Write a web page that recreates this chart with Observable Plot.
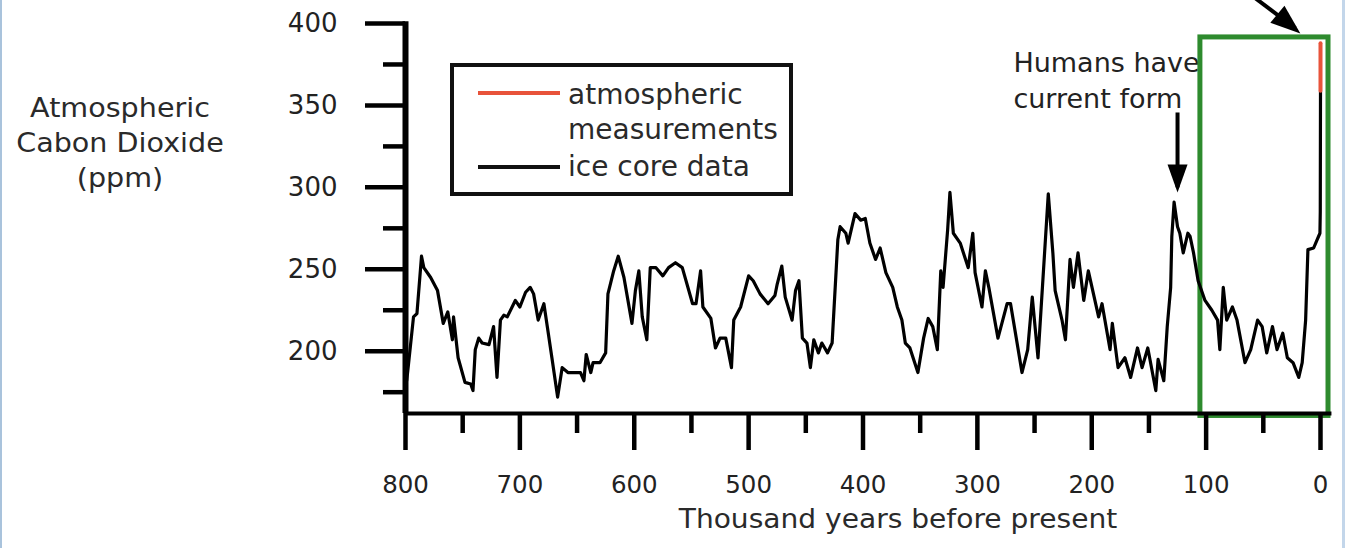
<!DOCTYPE html>
<html>
<head>
<meta charset="utf-8">
<script src="https://cdn.jsdelivr.net/npm/d3@7"></script>
<script src="https://cdn.jsdelivr.net/npm/@observablehq/plot@0.6"></script>
<style>
  html, body { margin: 0; padding: 0; background: #fff; }
  #wrap { position: relative; width: 1345px; height: 548px; overflow: hidden; background: #fff; font-family: "DejaVu Sans", sans-serif; }
  #chart { position: absolute; left: 0; top: 0; }
  .txt { position: absolute; white-space: nowrap; color: #2a2a2a; font-family: "DejaVu Sans", sans-serif; }
</style>
</head>
<body>
<div id="wrap">
  <div id="chart"></div>
  <div class="txt" id="ylab" style="left:0;top:91px;width:240px;text-align:center;font-size:26px;line-height:35px;transform:scaleX(1.1);transform-origin:120px 0;">Atmospheric<br>Cabon Dioxide<br>(ppm)</div>
  <div class="txt" id="xlab" style="left:598px;width:600px;top:506px;text-align:center;font-size:26px;line-height:26px;transform:scaleX(1.08);transform-origin:300px 0;">Thousand years before present</div>
  <div id="legend" style="position:absolute;left:450px;top:63px;width:343px;height:133px;box-sizing:border-box;border:4px solid #111;background:#fff;"></div>
  <div style="position:absolute;left:478px;top:91px;width:82px;height:4px;background:#e8533a;"></div>
  <div style="position:absolute;left:478px;top:165px;width:82px;height:4px;background:#111;"></div>
  <div class="txt" style="left:568px;top:81px;font-size:28px;line-height:28px;">atmospheric</div>
  <div class="txt" style="left:568px;top:116px;font-size:28px;line-height:28px;">measurements</div>
  <div class="txt" style="left:568px;top:153px;font-size:28px;line-height:28px;">ice core data</div>
  <div style="position:absolute;left:0;top:0;width:2px;height:548px;background:#a9c3dc;"></div>
  <div style="position:absolute;left:1342px;top:0;width:3px;height:548px;background:#c3d6ea;"></div>
</div>
<script>
// Ice core data: age in thousand years before present, CO2 in ppm
const iceAge = [799,798,793,790,786,784,778,772,767,763,759,758,754,748,743,741,739,736,733,727,723,720,717,714,711,704,700,695,691,688,684,679,676,672,667,663,658,647,644,642,638,636,630,625,623,618,614,609,602,599,596,593,589,586,581,575,570,564,558,549,546,542,540,533,529,525,520,515,513,507,500,496,490,483,477,475,471,468,462,459,456,453,449,446,443,439,436,431,427,422,420,415,413,407,402,398,394,389,385,380,374,370,366,363,359,352,347,343,339,335,332,330,326,324,321,315,308,304,302,296,293,290,282,274,271,261,256,252,247,238,234,232,226,223,219,216,212,207,203,194,191,184,182,177,171,166,160,156,151,144,142,137,134,131,130,128,125,123,120,116,114,111,107,101,95,90,88,85,82,77,73,66,61,55,51,47,42,38,33,29,24,19,16,13,11,6,3,0.5,0.2,0];
const iceCO2 = [182,188,221,223,258,251,245,237,217,224,207,221,196,181,180,176,201,208,205,204,215,184,219,222,221,231,227,236,239,235,219,229,215,196,172,190,187,187,182,198,187,193,193,199,235,249,258,245,217,237,249,221,207,251,251,246,251,254,251,229,229,249,227,220,202,208,208,190,219,227,246,243,235,229,234,241,252,233,219,237,243,208,205,190,207,199,205,199,205,268,276,272,266,284,280,281,266,256,263,248,239,227,219,205,202,187,208,220,215,201,249,239,274,297,272,266,251,272,248,227,249,239,208,229,229,187,201,233,196,296,260,237,219,207,256,239,260,231,249,221,229,201,217,190,196,184,202,190,202,176,195,182,215,239,270,291,276,272,260,272,270,260,243,231,225,219,201,239,219,227,219,193,201,219,215,199,215,201,211,196,193,184,193,219,262,263,268,272,285,359];
// Atmospheric measurements
const atmAge = [0, 0];
const atmCO2 = [359, 388];
// Axis ticks
const xMajor = [800,700,600,500,400,300,200,100,0];
const xMinor = [750,650,550,450,350,250,150,50];
const yMajor = [200,250,300,350,400];
const yMinor = [175,225,275,325,375];

const ice = iceAge.map((a, i) => ({age: a, co2: iceCO2[i]}));
const atm = atmAge.map((a, i) => ({age: a, co2: atmCO2[i]}));

const arrowHead = (w, l) => ({
  draw(ctx) { ctx.moveTo(0, 0); ctx.lineTo(-w / 2, -l); ctx.lineTo(w / 2, -l); ctx.closePath(); }
});

const font = "DejaVu Sans, sans-serif";
const chart = Plot.plot({
  width: 1345,
  height: 548,
  marginLeft: 405,
  marginRight: 25,
  marginTop: 23,
  marginBottom: 135,
  style: {background: "transparent", color: "#111", fontFamily: font, overflow: "visible"},
  x: {domain: [800, 0], axis: null},
  y: {domain: [162, 400], axis: null},
  marks: [
    Plot.text(["Humans have", "current form"], {
      x: 268.5, y: (d, i) => i === 0 ? 370.7 : 348.7, text: d => d,
      textAnchor: "start", lineAnchor: "bottom", fontSize: 27, fill: "#222", fontFamily: font
    }),
    Plot.rect([{x1: 105, x2: -7, y1: 160.5, y2: 391.5}], {
      x1: "x1", x2: "x2", y1: "y1", y2: "y2", fill: "white", stroke: "#2e8b2e", strokeWidth: 5
    }),
    Plot.line(ice, {x: "age", y: "co2", stroke: "#000", strokeWidth: 3.2, strokeLinejoin: "round"}),
    Plot.line(atm, {x: "age", y: "co2", stroke: "#e8533a", strokeWidth: 4}),
    // axes
    Plot.axisX({ticks: xMinor, tickSize: 20, strokeWidth: 4.5, stroke: "#000", tickFormat: () => "", label: null}),
    Plot.axisX({ticks: xMajor, tickSize: 37, tickPadding: 25, strokeWidth: 4.5, stroke: "#000", fontSize: 24.5, fill: "#222", label: null}),
    Plot.axisY({ticks: yMinor, tickSize: 22, strokeWidth: 4.5, stroke: "#000", tickFormat: () => "", label: null}),
    Plot.axisY({ticks: yMajor, tickSize: 40, tickPadding: 28, strokeWidth: 4.5, stroke: "#000", fontSize: 26, fill: "#222", label: null}),
    Plot.ruleY([162], {x1: 800, x2: -10, stroke: "#000", strokeWidth: 4}),
    Plot.ruleX([800], {y1: 162, y2: 401, stroke: "#000", strokeWidth: 6}),
    // annotation arrows
    Plot.link([{x1: 125, y1: 345.7, x2: 125, y2: 300}], {x1: "x1", y1: "y1", x2: "x2", y2: "y2", stroke: "#000", strokeWidth: 4}),
    Plot.dot([{x: 125, y: 296.9}], {x: "x", y: "y", symbol: arrowHead(20, 28), r: 6, fill: "#000", stroke: "none"}),
    Plot.link([{x1: 58, y1: 416, x2: 22, y2: 397}], {x1: "x1", y1: "y1", x2: "x2", y2: "y2", stroke: "#000", strokeWidth: 4}),
    Plot.dot([{x: 17.6, y: 393.9}], {x: "x", y: "y", symbol: arrowHead(22, 30), r: 6, rotate: -50, fill: "#000", stroke: "none"})
  ]
});
document.getElementById("chart").appendChild(chart);
</script>
</body>
</html>
